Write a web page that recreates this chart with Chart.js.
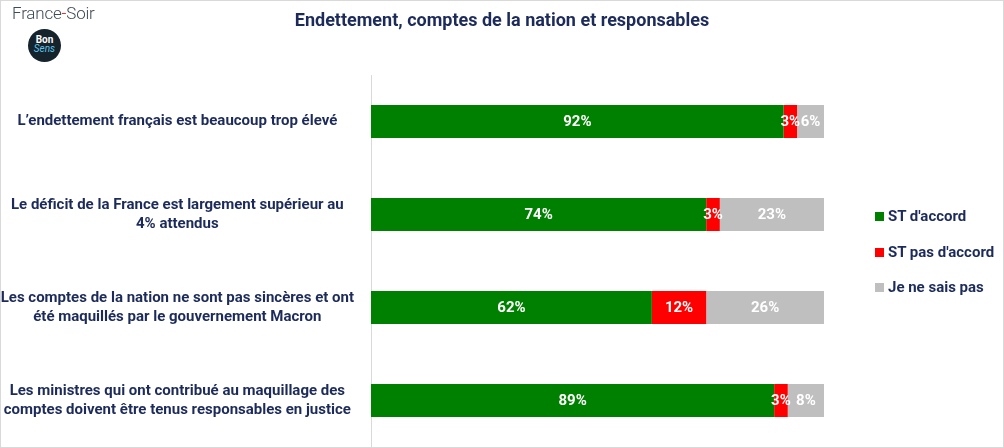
<!DOCTYPE html>
<html>
<head>
<meta charset="utf-8">
<script src="https://cdn.jsdelivr.net/npm/chart.js@4.4.0/dist/chart.umd.min.js"></script>
<style>
  html, body { margin: 0; padding: 0; background: #fff; }
  #wrap { position: relative; width: 1004px; height: 448px; box-sizing: border-box; border: 1px solid #d9d9d9; overflow: hidden; }
  #chart { display: block; }
  #logo { position: absolute; left: 11px; top: 2px; font-family: Roboto, sans-serif; font-weight: 300; font-size: 17px; color: #3e4c57; letter-spacing: -0.2px; }
  #logo span { color: #e30613; }
  #badge { position: absolute; left: 27px; top: 28px; width: 33px; height: 33px; border-radius: 50%; background: #15232d; color: #fff; font-family: Roboto, sans-serif; font-size: 10px; line-height: 9px; text-align: center; }
  #badge .b1 { display: block; padding-top: 6px; font-weight: bold; }
  #badge .b2 { display: block; color: #5ec4e8; font-style: italic; }
  #legend { position: absolute; left: 874px; top: 206px; font-family: Roboto, sans-serif; font-weight: bold; font-size: 15px; color: #1c2b5a; }
  #legend div { height: 35.5px; display: flex; align-items: flex-start; }
  #legend i { display: inline-block; width: 9px; height: 9px; margin: 5px 4px 0 0; }
</style>
</head>
<body>
<div id="wrap">
  <canvas id="chart" width="1002" height="446"></canvas>
  <div id="logo">France<span>-</span>Soir</div>
  <div id="badge"><span class="b1">Bon</span><span class="b2">Sens</span></div>
  <div id="legend"></div>
</div>
<script>
// categories (multi-line labels) and raw values as printed on the bars
const categories = [
    ['L\u2019endettement fran\u00e7ais est beaucoup trop \u00e9lev\u00e9'],
    ['Le d\u00e9ficit de la France est largement sup\u00e9rieur au', '4% attendus'],
    ['Les comptes de la nation ne sont pas sinc\u00e8res et ont', '\u00e9t\u00e9 maquill\u00e9s par le gouvernement Macron'],
    ['Les ministres qui ont contribu\u00e9 au maquillage des', 'comptes doivent \u00eatre tenus responsables en justice']
];
const seriesNames = ["ST d'accord", "ST pas d'accord", 'Je ne sais pas'];
const accord = [92, 74, 62, 89];
const pasAccord = [3, 3, 12, 3];
const nsp = [6, 23, 26, 8];
const colors = ['#008000', '#ff0000', '#bfbfbf'];

const raw = [accord, pasAccord, nsp];
// 100% stacked: each bar scaled to its row total
const totals = accord.map((v, i) => v + pasAccord[i] + nsp[i]);

const navy = '#1c2b5a';

// legend (html)
const legendEl = document.getElementById('legend');
seriesNames.forEach((n, i) => {
    const d = document.createElement('div');
    d.innerHTML = '<i style="background:' + colors[i] + '"></i>' + n;
    legendEl.appendChild(d);
});

// white value labels in the middle of each segment
const valueLabels = {
    id: 'valueLabels',
    afterDatasetsDraw(chart) {
        const ctx = chart.ctx;
        ctx.save();
        ctx.font = 'bold 15px Roboto';
        ctx.fillStyle = '#fff';
        ctx.textAlign = 'center';
        ctx.textBaseline = 'middle';
        chart.data.datasets.forEach((ds, di) => {
            chart.getDatasetMeta(di).data.forEach((bar, i) => {
                const p = bar.getProps(['x', 'y', 'base'], true);
                ctx.fillText(raw[di][i] + '%', (p.x + p.base) / 2, p.y + 1);
            });
        });
        ctx.restore();
    }
};

new Chart(document.getElementById('chart'), {
    type: 'bar',
    data: {
        labels: categories,
        datasets: seriesNames.map((n, di) => ({
            label: n,
            data: raw[di].map((v, i) => v / totals[i] * 100),
            backgroundColor: colors[di],
            categoryPercentage: 1,
            barPercentage: 0.355
        }))
    },
    options: {
        indexAxis: 'y',
        responsive: false,
        maintainAspectRatio: false,
        animation: false,
        layout: { padding: 0 },
        plugins: {
            legend: { display: false },
            tooltip: { enabled: false },
            title: {
                display: true,
                text: 'Endettement, comptes de la nation et responsables',
                color: navy,
                font: { family: 'Roboto', size: 18, weight: 'bold' },
                padding: { top: 10, bottom: 42.4 }
            }
        },
        scales: {
            x: {
                stacked: true,
                min: 0,
                max: 100,
                display: false
            },
            y: {
                stacked: true,
                grid: { display: false },
                border: { display: true, color: '#d9d9d9', width: 1 },
                afterFit(scale) {
                    scale.width = 370;
                    scale.paddingTop = 0;
                    scale.paddingBottom = 0;
                },
                ticks: {
                    crossAlign: 'center',
                    padding: 9,
                    color: navy,
                    font: { family: 'Roboto', size: 15, weight: 'bold', lineHeight: 1.25 }
                }
            },
            // empty right axis only reserves room for the legend
            yRight: {
                type: 'category',
                position: 'right',
                grid: { display: false },
                border: { display: false },
                ticks: { display: false },
                afterFit(scale) {
                    scale.width = 179;
                    scale.paddingTop = 0;
                    scale.paddingBottom = 0;
                }
            }
        }
    },
    plugins: [valueLabels]
});
</script>
</body>
</html>
